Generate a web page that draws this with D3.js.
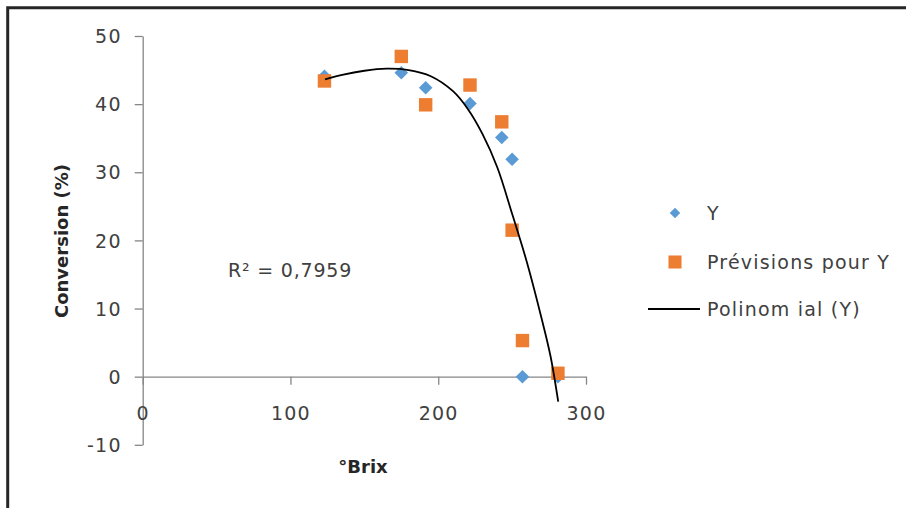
<!DOCTYPE html>
<html>
<head>
<meta charset="utf-8">
<script src="https://cdn.jsdelivr.net/npm/d3@7"></script>
<style>
  body { margin: 0; background: #fff; }
  svg text { font-family: "DejaVu Sans", Verdana, sans-serif; }
  .axis path, .axis line { stroke: #868686; stroke-width: 1.3; }
  .axis text { fill: #404040; font-size: 19px; letter-spacing: 1.2px; }
</style>
</head>
<body>
<div class="chart"></div>
<script>
const width = 906,
      height = 508;

// °Brix values (shared by Y and its predictions)
const brix = [123, 175, 191.5, 221.5, 243, 250, 257, 281];
const yObs = [44.1, 44.6, 42.4, 40.1, 35.1, 31.9, 0, 0];
const yPred = [43.4, 47.0, 39.9, 42.8, 37.4, 21.5, 5.3, 0.5];

// trend curve
const trendX = [123.4, 135, 150, 165, 180, 195, 210, 220, 230, 240, 250, 260, 270, 276, 281.2];
const trendY = [43.65, 44.3, 44.9, 45.2, 45.0, 44.1, 41.9, 39.3, 35.6, 30.7, 23.9, 16.8, 8.5, 3.0, -3.67];

const xTicks = [0, 100, 200, 300];
const yTicks = [-10, 0, 10, 20, 30, 40, 50];
const legendLabels = ["Y", "Prévisions pour Y", "Polinom ial (Y)"];

const blue = "#5b9bd5", orange = "#ed7d31";

const svg = d3.select(".chart")
              .append("svg")
              .attr("width", width)
              .attr("height", height);

const x = d3.scaleLinear().domain([0, 300]).range([142.7, 586]);
const y = d3.scaleLinear().domain([-10, 50]).range([444.8, 36]);

// frame (only top and left edges visible)
svg.append("path")
   .attr("d", "M7.7," + height + "V7.7H" + width)
   .attr("fill", "none")
   .attr("stroke", "#262626")
   .attr("stroke-width", 3);

var g = svg.append("g");

g.append("g").classed("axis", true)
 .attr("transform", "translate(" + x(0) + ",0)")
 .call(d3.axisLeft(y).tickValues(yTicks).tickFormat(d => String(d)).tickSize(8).tickSizeOuter(0).tickPadding(13))
 .call(a => a.selectAll("text").attr("dy", "0.35em"));

g.append("g").classed("axis", true)
 .attr("transform", "translate(0," + y(0) + ")")
 .call(d3.axisBottom(x).tickValues(xTicks).tickFormat(d => String(d)).tickSize(8).tickSizeOuter(0).tickPadding(22));

// axis titles
g.append("text")
 .attr("transform", "translate(62,241)rotate(-90)")
 .attr("text-anchor", "middle")
 .attr("dy", "0.35em")
 .style("font-size", "18px")
 .style("font-weight", "bold")
 .attr("fill", "#262626")
 .text("Conversion (%)");

g.append("text")
 .attr("x", 363)
 .attr("y", 467)
 .attr("text-anchor", "middle")
 .attr("dy", "0.35em")
 .style("font-size", "18px")
 .style("font-weight", "bold")
 .attr("fill", "#262626")
 .text("°Brix");

// R² label
g.append("text")
 .attr("x", 228)
 .attr("y", 270)
 .attr("dy", "0.35em")
 .style("font-size", "19px")
 .style("letter-spacing", "0.8px")
 .attr("fill", "#404040")
 .text("R² = 0,7959");

const diamond = d3.symbol().type(d3.symbolSquare).size(92);
const square = d3.symbol().type(d3.symbolSquare).size(180);

// scatter points
g.append("g").selectAll("path")
 .data(brix)
 .enter().append("path")
 .attr("d", diamond)
 .attr("fill", blue)
 .attr("transform", (d, i) => "translate(" + x(d) + "," + y(yObs[i]) + ")rotate(45)");

g.append("g").selectAll("path")
 .data(brix)
 .enter().append("path")
 .attr("d", square)
 .attr("fill", orange)
 .attr("transform", (d, i) => "translate(" + x(d) + "," + y(yPred[i]) + ")");

// trend line
const line = d3.line()
               .x(d => x(d[0]))
               .y(d => y(d[1]))
               .curve(d3.curveCatmullRom.alpha(0.5));

g.append("path")
 .datum(trendX.map((v, i) => [v, trendY[i]]))
 .attr("d", line)
 .attr("fill", "none")
 .attr("stroke", "#000")
 .attr("stroke-width", 1.8);

// legend
var lg = svg.append("g").attr("transform", "translate(675,0)");
const rows = [213, 262, 309];

lg.append("path")
  .attr("d", d3.symbol().type(d3.symbolSquare).size(56))
  .attr("fill", blue)
  .attr("transform", "translate(0," + rows[0] + ")rotate(45)");
lg.append("path")
  .attr("d", d3.symbol().type(d3.symbolSquare).size(170))
  .attr("fill", orange)
  .attr("transform", "translate(0," + rows[1] + ")");
lg.append("line")
  .attr("x1", -27).attr("x2", 25)
  .attr("y1", rows[2]).attr("y2", rows[2])
  .attr("stroke", "#000")
  .attr("stroke-width", 1.8);

lg.selectAll("text.leg")
  .data(legendLabels)
  .enter().append("text")
  .classed("leg", true)
  .attr("x", 32)
  .attr("y", (d, i) => rows[i])
  .attr("dy", "0.35em")
  .style("font-size", "19px")
  .style("letter-spacing", "1.2px")
  .attr("fill", "#404040")
  .text(d => d);
</script>
</body>
</html>
